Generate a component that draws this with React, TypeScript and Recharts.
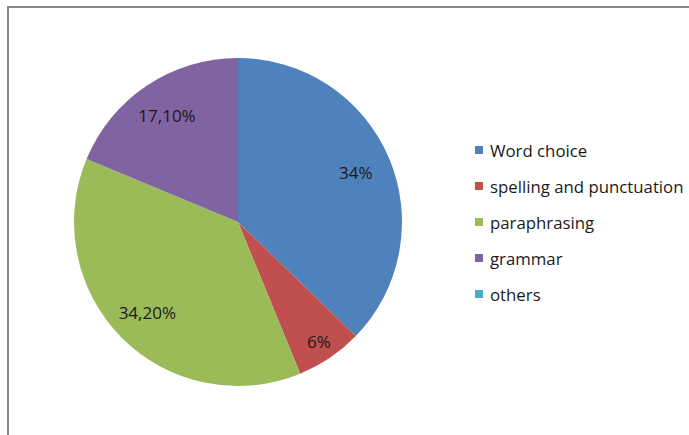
import React from 'react';
import { PieChart, Pie, Cell } from 'recharts';

const categories = ['Word choice', 'spelling and punctuation', 'paraphrasing', 'grammar', 'others'];
const values = [34, 6, 34.2, 17.1, 0];
const valueLabels = ['34%', '6%', '34,20%', '17,10%', ''];
const colors = ['#4F81BD', '#C0504D', '#9BBB59', '#8064A2', '#4BACC6'];

const data = categories.map((name, i) => ({ name, value: values[i], label: valueLabels[i] }));

const RADIAN = Math.PI / 180;
const FONT = '"Open Sans", "Liberation Sans", Arial, sans-serif';

const renderLabel = (props: any) => {
  const { cx, cy, midAngle, outerRadius, percent, index } = props;
  if (!valueLabels[index]) return null;
  const r = outerRadius * (percent < 0.1 ? 0.88 : 0.78);
  const x = cx + r * Math.cos(-midAngle * RADIAN);
  const y = cy + r * Math.sin(-midAngle * RADIAN);
  return (
    <text x={x} y={y} fill="#1a1a1a" fontSize={17} fontFamily={FONT} textAnchor="middle" dominantBaseline="central">
      {valueLabels[index]}
    </text>
  );
};

const ChartLegend = () => (
  <div style={{ position: 'absolute', left: 475, top: 132, fontFamily: FONT, fontSize: 16.8, color: '#1a1a1a' }}>
    {categories.map((name, i) => (
      <div key={name} style={{ display: 'flex', alignItems: 'center', height: 36, whiteSpace: 'nowrap' }}>
        <span style={{ width: 8, height: 8, background: colors[i], marginRight: 7, display: 'inline-block' }} />
        <span>{name}</span>
      </div>
    ))}
  </div>
);

const App: React.FC = () => {
  return (
    <div style={{ position: 'absolute', left: 0, top: 0, width: 689, height: 435, background: '#fff' }}>
      <div
        style={{
          position: 'absolute',
          left: 7,
          top: 6,
          right: 0,
          bottom: 0,
          borderLeft: '2px solid #878787',
          borderTop: '2px solid #878787',
        }}
      />
      <div style={{ position: 'absolute', left: 0, top: 0 }}>
        <PieChart width={689} height={435} margin={{ top: 0, right: 0, bottom: 0, left: 0 }}>
          <Pie
            data={data}
            dataKey="value"
            nameKey="name"
            cx={238}
            cy={222}
            outerRadius={164}
            startAngle={90}
            endAngle={-270}
            stroke="none"
            label={renderLabel}
            labelLine={false}
            isAnimationActive={false}
          >
            {data.map((d, i) => (
              <Cell key={d.name} fill={colors[i]} />
            ))}
          </Pie>
        </PieChart>
      </div>
      <ChartLegend />
    </div>
  );
};

export default App;
